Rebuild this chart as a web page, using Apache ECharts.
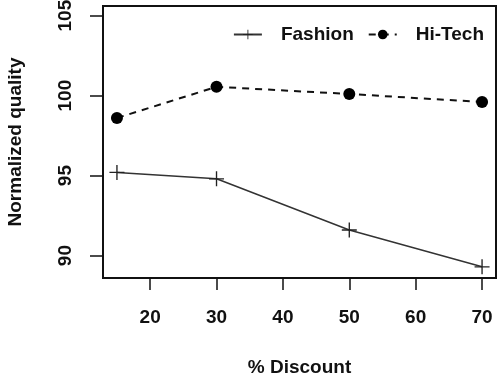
<!DOCTYPE html>
<html><head><meta charset="utf-8">
<script src="https://cdn.jsdelivr.net/npm/echarts@6/dist/echarts.min.js"></script>
<style>html,body{margin:0;padding:0;background:#fff}#c{width:498px;height:377px}</style>
</head><body><div id="c"></div>
<script>
var discounts = [15, 30, 50, 70];
var fashion = [95.2, 94.8, 91.6, 89.3];
var hitech = [98.6, 100.55, 100.1, 99.6];
var xTicks = [20, 30, 40, 50, 60, 70];
var yTicks = [90, 95, 100, 105];

var font = {fontFamily: 'Liberation Sans, Arial, sans-serif', fontSize: 19, fontWeight: 'bold', color: '#111'};
var plus = 'path://M-0.09,-1 L0.09,-1 L0.09,-0.09 L1,-0.09 L1,0.09 L0.09,0.09 L0.09,1 L-0.09,1 L-0.09,0.09 L-1,0.09 L-1,-0.09 L-0.09,-0.09 Z';

var chart = echarts.init(document.getElementById('c'), null, {renderer: 'canvas'});
chart.setOption({
  animation: false,
  backgroundColor: '#fff',
  grid: {left: 103, right: 2, top: 6, bottom: 99, show: true, borderColor: '#111', borderWidth: 2, backgroundColor: 'transparent', outerBoundsMode: 'none', containLabel: false},
  legend: {
    right: 9, top: 20, itemWidth: 28, itemHeight: 12, itemGap: 14,
    textStyle: Object.assign({}, font, {padding: [0, 0, 0, 14]}),
    data: ['Fashion', 'Hi-Tech']
  },
  xAxis: {
    type: 'value', min: 12.9, max: 72.1,
    name: '% Discount', nameLocation: 'middle', nameGap: 80, nameTextStyle: font,
    axisLine: {show: true, lineStyle: {color: '#111', width: 2}},
    axisTick: {show: true, length: 12, lineStyle: {color: '#111', width: 1.5}, customValues: xTicks},
    axisLabel: Object.assign({}, font, {margin: 30, customValues: xTicks}),
    splitLine: {show: false}
  },
  yAxis: {
    type: 'value', min: 88.6, max: 105.6,
    name: 'Normalized quality', nameLocation: 'middle', nameGap: 78, nameRotate: 90, nameTextStyle: font,
    axisLine: {show: true, lineStyle: {color: '#111', width: 2}},
    axisTick: {show: true, length: 13, lineStyle: {color: '#111', width: 1.5}, customValues: yTicks},
    axisLabel: Object.assign({}, font, {margin: 28, rotate: 90, customValues: yTicks}),
    splitLine: {show: false}
  },
  series: [
    {
      name: 'Fashion', type: 'line',
      data: discounts.map(function (d, i) { return [d, fashion[i]]; }),
      symbol: plus, symbolSize: 15,
      lineStyle: {color: '#333', width: 1.5, type: 'solid'},
      itemStyle: {color: '#222'}
    },
    {
      name: 'Hi-Tech', type: 'line',
      data: discounts.map(function (d, i) { return [d, hitech[i]]; }),
      symbol: 'circle', symbolSize: 12,
      lineStyle: {color: '#111', width: 2, type: [7, 6]},
      itemStyle: {color: '#000'}
    }
  ]
});
</script></body></html>
